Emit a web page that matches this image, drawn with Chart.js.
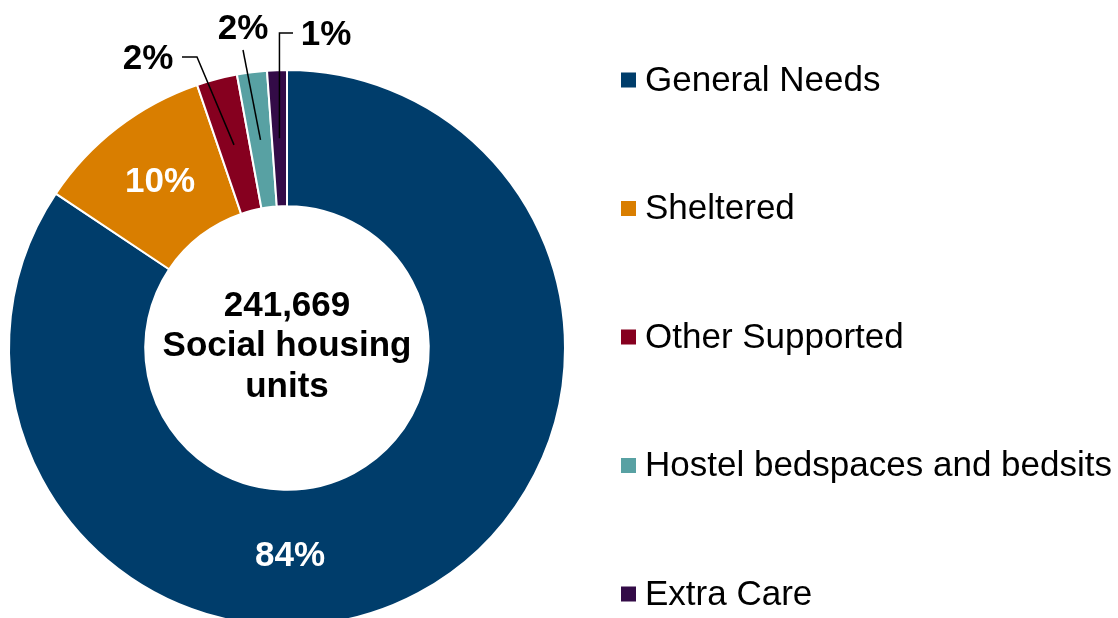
<!DOCTYPE html>
<html>
<head>
<meta charset="utf-8">
<script src="https://cdn.jsdelivr.net/npm/chart.js@4"></script>
<style>
  html, body { margin: 0; padding: 0; background: #fff; overflow: hidden; }
  #wrap { width: 1118px; height: 618px; overflow: hidden; }
</style>
</head>
<body>
<div id="wrap"><canvas id="chartUnits" width="1118" height="660"></canvas></div>
<script>
const categories = ["General Needs", "Sheltered", "Other Supported", "Hostel bedspaces and bedsits", "Extra Care"];
const units = [203900, 25100, 5700, 4200, 2769];
const colours = ["#003d6b", "#d97e00", "#86001f", "#58a1a3", "#330b47"];
const totalLabel = "241,669";
const centreLines = ["Social housing", "units"];

const FONT = "'Liberation Sans', Arial, sans-serif";

// where each % label goes, relative to the doughnut centre
const labelSpots = [
    { dx: 3, dy: 207, colour: "#fff" },
    { dx: -127, dy: -167, colour: "#fff" },
    { dx: -139, dy: -290, colour: "#000", line: [[-105, -291], [-90, -291]] },
    { dx: -44, dy: -320, colour: "#000", line: [[-44, -298]] },
    { dx: 39, dy: -314, colour: "#000", line: [[6, -315], [-7, -315]] }
];

const overlay = {
    id: "overlay",
    afterDraw(chart) {
        const c = chart.ctx;
        const arcs = chart.getDatasetMeta(0).data;
        const cx = arcs[0].x, cy = arcs[0].y;
        const total = units.reduce((a, b) => a + b, 0);

        c.save();
        c.textAlign = "center";
        c.textBaseline = "alphabetic";

        // centre text
        c.fillStyle = "#000";
        c.font = "bold 35px " + FONT;
        c.fillText(totalLabel, cx, cy - 32);
        c.fillText(centreLines[0], cx, cy + 8);
        c.fillText(centreLines[1], cx, cy + 49);

        // percentage labels + leader lines
        arcs.forEach(function (arc, i) {
            const spot = labelSpots[i];
            const pct = Math.round(units[i] / total * 100) + "%";
            if (spot.line) {
                const mid = (arc.startAngle + arc.endAngle) / 2;
                const r = (arc.innerRadius + arc.outerRadius) / 2;
                const ex = cx + Math.cos(mid) * r, ey = cy + Math.sin(mid) * r;
                c.beginPath();
                c.strokeStyle = "#000";
                c.lineWidth = 1.5;
                c.moveTo(cx + spot.line[0][0], cy + spot.line[0][1]);
                for (let k = 1; k < spot.line.length; k++) {
                    const px = (i === 4 && k === spot.line.length - 1) ? ex : cx + spot.line[k][0];
                    c.lineTo(px, cy + spot.line[k][1]);
                }
                c.lineTo(ex, ey);
                c.stroke();
            }
            c.fillStyle = spot.colour;
            c.font = "bold 35px " + FONT;
            c.textBaseline = "middle";
            c.fillText(pct, cx + spot.dx, cy + spot.dy + 1);
            c.textBaseline = "alphabetic";
        });

        // legend on the right
        c.textAlign = "left";
        c.textBaseline = "middle";
        c.font = "35px " + FONT;
        categories.forEach(function (name, i) {
            const y = 80 + i * 128.5;
            c.fillStyle = colours[i];
            c.fillRect(621, y - 7.5, 15, 15);
            c.fillStyle = "#000";
            c.fillText(name, 645, y + 1);
        });
        c.restore();
    }
};

new Chart(document.getElementById("chartUnits"), {
    type: "doughnut",
    data: {
        labels: categories,
        datasets: [{
            data: units,
            backgroundColor: colours,
            borderColor: "#fff",
            borderWidth: 2
        }]
    },
    options: {
        responsive: false,
        animation: false,
        cutout: "51%",
        layout: { padding: { left: 8, right: 552, top: 69, bottom: 33 } },
        plugins: {
            legend: { display: false },
            tooltip: { enabled: false }
        }
    },
    plugins: [overlay]
});
</script>
</body>
</html>
